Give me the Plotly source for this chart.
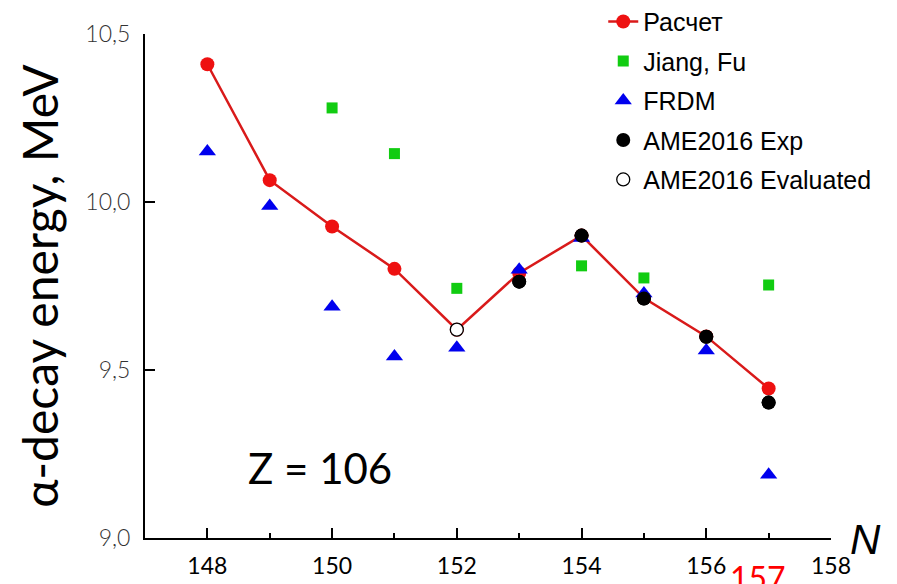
import plotly.graph_objects as go

# Neutron numbers
n_calc = [148, 149, 150, 151, 152, 153, 154, 155, 156, 157]
e_calc = [10.41, 10.065, 9.927, 9.801, 9.62, 9.789, 9.90, 9.714, 9.60, 9.445]

n_jiang = [150, 151, 152, 154, 155, 157]
e_jiang = [10.28, 10.144, 9.743, 9.810, 9.774, 9.753]

n_frdm = [148, 149, 150, 151, 152, 153, 154, 155, 156, 157]
e_frdm = [10.15, 9.988, 9.688, 9.540, 9.566, 9.798, 9.893, 9.728, 9.558, 9.188]

n_exp = [153, 154, 155, 156, 157]
e_exp = [9.763, 9.90, 9.713, 9.599, 9.403]

n_eval = [152]
e_eval = [9.62]

x_ticks = [148, 150, 152, 154, 156, 158]
y_ticks = [9.0, 9.5, 10.0, 10.5]

LEG_FONT = "Liberation Sans, Arial, sans-serif"
AX_FONT = "Lato, Open Sans, sans-serif"

fig = go.Figure()
fig.add_trace(go.Scatter(
    x=n_calc, y=e_calc, mode="lines+markers", name="Расчет", legendgroup="a",
    line=dict(color="#d91a1a", width=2.5),
    marker=dict(symbol="circle", size=14, color="#ee1111"),
))
fig.add_trace(go.Scatter(
    x=n_jiang, y=e_jiang, mode="markers", name="Jiang, Fu", legendgroup="b",
    marker=dict(symbol="square", size=11, color="#11cc11"),
))
fig.add_trace(go.Scatter(
    x=n_exp, y=e_exp, mode="markers", name="AME2016 Exp", legendgroup="d",
    marker=dict(symbol="circle", size=14, color="black"),
    showlegend=False, hoverinfo="skip",
))
fig.add_trace(go.Scatter(
    x=n_frdm, y=e_frdm, mode="markers", name="FRDM", legendgroup="c",
    marker=dict(symbol="triangle-up", size=15, color="#0000ee"),
))
fig.add_trace(go.Scatter(
    x=n_exp, y=e_exp, mode="markers", name="AME2016 Exp", legendgroup="d",
    marker=dict(symbol="circle", size=14, color="black"),
))
fig.add_trace(go.Scatter(
    x=n_eval, y=e_eval, mode="markers", name="AME2016 Evaluated", legendgroup="e",
    marker=dict(symbol="circle", size=13, color="white", line=dict(color="black", width=1.3)),
))

fig.update_layout(
    width=897, height=584,
    margin=dict(l=145, r=66, t=34, b=46, autoexpand=False),
    plot_bgcolor="white", paper_bgcolor="white",
    separators=", ",
    showlegend=True,
    legend=dict(
        x=0.668, y=1.07, xanchor="left", yanchor="top",
        font=dict(family=LEG_FONT, size=25, color="black"),
        bgcolor="rgba(0,0,0,0)", tracegroupgap=4,
        traceorder="grouped",
    ),
    xaxis=dict(
        range=[147, 158], tickvals=x_ticks, tickformat="d",
        showgrid=False, zeroline=False,
        showline=True, linecolor="black", linewidth=2,
        ticks="inside", ticklen=10, tickwidth=2, tickcolor="black",
        minor=dict(ticks="inside", ticklen=5, tickwidth=2, tickcolor="black", dtick=1, tick0=147, showgrid=False),
        tickfont=dict(family=AX_FONT, size=23, color="black"),
        ticklabelstandoff=6,
    ),
    yaxis=dict(
        range=[9.0, 10.5], tickvals=y_ticks, tickformat=".1f",
        showgrid=False, zeroline=False,
        showline=True, linecolor="black", linewidth=2,
        ticks="inside", ticklen=10, tickwidth=2, tickcolor="black",
        tickfont=dict(family=AX_FONT, size=23, color="#333333", weight=300),
        ticklabelstandoff=8,
        title=dict(text="α-decay energy, MeV", font=dict(family=AX_FONT, size=48, color="black"), standoff=12),
    ),
    annotations=[
        dict(text="Z = 106", x=0.255, y=0.139, xref="paper", yref="paper",
             xanchor="center", yanchor="middle", showarrow=False,
             font=dict(family=AX_FONT, size=42, color="black")),
        dict(text="<i>N</i>", x=1.051, y=-0.002, xref="paper", yref="paper",
             xanchor="center", yanchor="middle", showarrow=False,
             font=dict(family=LEG_FONT, size=42, color="black")),
        dict(text="157", x=0.894, y=-0.035, xref="paper", yref="paper",
             xanchor="center", yanchor="top", showarrow=False,
             font=dict(family=AX_FONT, size=32, color="#ff0000")),
    ],
)

fig.write_html("out.html")
